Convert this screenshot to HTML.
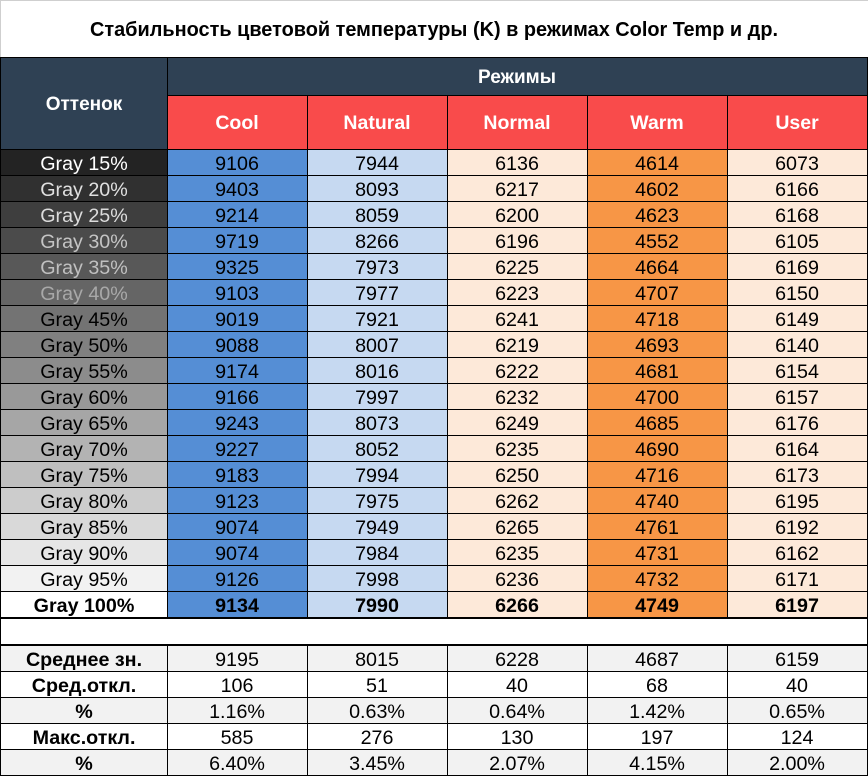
<!DOCTYPE html>
<html><head><meta charset="utf-8">
<style>
html,body{margin:0;padding:0;background:#fff;}
svg{display:block;}
text{font-family:"Liberation Sans",Arial,sans-serif;}
</style></head>
<body>
<svg width="868" height="776" viewBox="0 0 868 776" xmlns="http://www.w3.org/2000/svg" shape-rendering="crispEdges">
<rect x="0" y="0" width="868" height="776" fill="#fff"/>
<rect x="0" y="0" width="868" height="1" fill="#cfcfcf"/>
<rect x="0" y="0" width="1" height="57" fill="#cfcfcf"/>
<text x="434" y="36" text-anchor="middle" font-size="20" font-weight="bold" textLength="688" lengthAdjust="spacingAndGlyphs" fill="#000">Стабильность цветовой температуры (K) в режимах Color Temp и др.</text>

<!-- header -->
<rect x="0" y="57" width="868" height="92" fill="#2f4154"/>
<rect x="167" y="95" width="700" height="54" fill="#f94b4b"/>
<text x="84" y="110" text-anchor="middle" font-size="19" font-weight="bold" fill="#fff">Оттенок</text>
<text x="517" y="83" text-anchor="middle" font-size="19" font-weight="bold" fill="#fff">Режимы</text>
<g font-size="19.5" font-weight="bold" fill="#fff" text-anchor="middle">
<text x="237" y="129">Cool</text>
<text x="377" y="129">Natural</text>
<text x="517" y="129">Normal</text>
<text x="657" y="129">Warm</text>
<text x="797" y="129">User</text>
</g>

<!-- data column fills -->
<rect x="167" y="149" width="140" height="468" fill="#558ed5"/>
<rect x="307" y="149" width="140" height="468" fill="#c6d9f1"/>
<rect x="447" y="149" width="140" height="468" fill="#fde9d9"/>
<rect x="587" y="149" width="140" height="468" fill="#f79646"/>
<rect x="727" y="149" width="140" height="468" fill="#fde9d9"/>

<!-- gray label fills -->
<rect x="0" y="149" width="167" height="26" fill="#232323"/>
<rect x="0" y="175" width="167" height="26" fill="#303030"/>
<rect x="0" y="201" width="167" height="26" fill="#3e3e3e"/>
<rect x="0" y="227" width="167" height="26" fill="#4b4b4b"/>
<rect x="0" y="253" width="167" height="26" fill="#585858"/>
<rect x="0" y="279" width="167" height="26" fill="#656565"/>
<rect x="0" y="305" width="167" height="26" fill="#737373"/>
<rect x="0" y="331" width="167" height="26" fill="#808080"/>
<rect x="0" y="357" width="167" height="26" fill="#8c8c8c"/>
<rect x="0" y="383" width="167" height="26" fill="#999999"/>
<rect x="0" y="409" width="167" height="26" fill="#a6a6a6"/>
<rect x="0" y="435" width="167" height="26" fill="#b3b3b3"/>
<rect x="0" y="461" width="167" height="26" fill="#bfbfbf"/>
<rect x="0" y="487" width="167" height="26" fill="#cccccc"/>
<rect x="0" y="513" width="167" height="26" fill="#d9d9d9"/>
<rect x="0" y="539" width="167" height="26" fill="#e6e6e6"/>
<rect x="0" y="565" width="167" height="26" fill="#f2f2f2"/>
<rect x="0" y="591" width="167" height="26" fill="#ffffff"/>

<!-- stats fills -->
<rect x="0" y="646" width="868" height="25" fill="#f2f2f2"/>
<rect x="0" y="697" width="868" height="26" fill="#f2f2f2"/>
<rect x="0" y="749" width="868" height="26" fill="#f2f2f2"/>

<!-- gray labels -->
<g font-size="19.7" text-anchor="middle">
<text x="84" y="170" fill="#ffffff">Gray 15%</text>
<text x="84" y="196" fill="#e0e0e0">Gray 20%</text>
<text x="84" y="222" fill="#dcdcdc">Gray 25%</text>
<text x="84" y="248" fill="#c4c4c4">Gray 30%</text>
<text x="84" y="274" fill="#c0c0c0">Gray 35%</text>
<text x="84" y="300" fill="#a8a8a8">Gray 40%</text>
<text x="84" y="326" fill="#000">Gray 45%</text>
<text x="84" y="352" fill="#000">Gray 50%</text>
<text x="84" y="378" fill="#000">Gray 55%</text>
<text x="84" y="404" fill="#000">Gray 60%</text>
<text x="84" y="430" fill="#000">Gray 65%</text>
<text x="84" y="456" fill="#000">Gray 70%</text>
<text x="84" y="482" fill="#000">Gray 75%</text>
<text x="84" y="508" fill="#000">Gray 80%</text>
<text x="84" y="534" fill="#000">Gray 85%</text>
<text x="84" y="560" fill="#000">Gray 90%</text>
<text x="84" y="586" fill="#000">Gray 95%</text>
<text x="84" y="612" fill="#000" font-weight="bold">Gray 100%</text>
</g>

<!-- data values -->
<g font-size="19.7" text-anchor="middle" fill="#000">
<text x="237" y="170">9106</text><text x="377" y="170">7944</text><text x="517" y="170">6136</text><text x="657" y="170">4614</text><text x="797" y="170">6073</text>
<text x="237" y="196">9403</text><text x="377" y="196">8093</text><text x="517" y="196">6217</text><text x="657" y="196">4602</text><text x="797" y="196">6166</text>
<text x="237" y="222">9214</text><text x="377" y="222">8059</text><text x="517" y="222">6200</text><text x="657" y="222">4623</text><text x="797" y="222">6168</text>
<text x="237" y="248">9719</text><text x="377" y="248">8266</text><text x="517" y="248">6196</text><text x="657" y="248">4552</text><text x="797" y="248">6105</text>
<text x="237" y="274">9325</text><text x="377" y="274">7973</text><text x="517" y="274">6225</text><text x="657" y="274">4664</text><text x="797" y="274">6169</text>
<text x="237" y="300">9103</text><text x="377" y="300">7977</text><text x="517" y="300">6223</text><text x="657" y="300">4707</text><text x="797" y="300">6150</text>
<text x="237" y="326">9019</text><text x="377" y="326">7921</text><text x="517" y="326">6241</text><text x="657" y="326">4718</text><text x="797" y="326">6149</text>
<text x="237" y="352">9088</text><text x="377" y="352">8007</text><text x="517" y="352">6219</text><text x="657" y="352">4693</text><text x="797" y="352">6140</text>
<text x="237" y="378">9174</text><text x="377" y="378">8016</text><text x="517" y="378">6222</text><text x="657" y="378">4681</text><text x="797" y="378">6154</text>
<text x="237" y="404">9166</text><text x="377" y="404">7997</text><text x="517" y="404">6232</text><text x="657" y="404">4700</text><text x="797" y="404">6157</text>
<text x="237" y="430">9243</text><text x="377" y="430">8073</text><text x="517" y="430">6249</text><text x="657" y="430">4685</text><text x="797" y="430">6176</text>
<text x="237" y="456">9227</text><text x="377" y="456">8052</text><text x="517" y="456">6235</text><text x="657" y="456">4690</text><text x="797" y="456">6164</text>
<text x="237" y="482">9183</text><text x="377" y="482">7994</text><text x="517" y="482">6250</text><text x="657" y="482">4716</text><text x="797" y="482">6173</text>
<text x="237" y="508">9123</text><text x="377" y="508">7975</text><text x="517" y="508">6262</text><text x="657" y="508">4740</text><text x="797" y="508">6195</text>
<text x="237" y="534">9074</text><text x="377" y="534">7949</text><text x="517" y="534">6265</text><text x="657" y="534">4761</text><text x="797" y="534">6192</text>
<text x="237" y="560">9074</text><text x="377" y="560">7984</text><text x="517" y="560">6235</text><text x="657" y="560">4731</text><text x="797" y="560">6162</text>
<text x="237" y="586">9126</text><text x="377" y="586">7998</text><text x="517" y="586">6236</text><text x="657" y="586">4732</text><text x="797" y="586">6171</text>
<g font-weight="bold">
<text x="237" y="612">9134</text><text x="377" y="612">7990</text><text x="517" y="612">6266</text><text x="657" y="612">4749</text><text x="797" y="612">6197</text>
</g>
</g>

<!-- stats -->
<g font-size="19.7" text-anchor="middle" fill="#000">
<g font-weight="bold">
<text x="84" y="666">Среднее зн.</text>
<text x="84" y="692">Сред.откл.</text>
<text x="84" y="718">%</text>
<text x="84" y="744">Макс.откл.</text>
<text x="84" y="770">%</text>
</g>
<text x="237" y="666">9195</text><text x="377" y="666">8015</text><text x="517" y="666">6228</text><text x="657" y="666">4687</text><text x="797" y="666">6159</text>
<text x="237" y="692">106</text><text x="377" y="692">51</text><text x="517" y="692">40</text><text x="657" y="692">68</text><text x="797" y="692">40</text>
<text x="237" y="718">1.16%</text><text x="377" y="718">0.63%</text><text x="517" y="718">0.64%</text><text x="657" y="718">1.42%</text><text x="797" y="718">0.65%</text>
<text x="237" y="744">585</text><text x="377" y="744">276</text><text x="517" y="744">130</text><text x="657" y="744">197</text><text x="797" y="744">124</text>
<text x="237" y="770">6.40%</text><text x="377" y="770">3.45%</text><text x="517" y="770">2.07%</text><text x="657" y="770">4.15%</text><text x="797" y="770">2.00%</text>
</g>

<!-- borders -->
<g fill="#000">
<rect x="0" y="57" width="868" height="1"/>
<rect x="167" y="95" width="700" height="1"/>
<rect x="0" y="149" width="868" height="1"/>
<rect x="0" y="175" width="868" height="1"/>
<rect x="0" y="201" width="868" height="1"/>
<rect x="0" y="227" width="868" height="1"/>
<rect x="0" y="253" width="868" height="1"/>
<rect x="0" y="279" width="868" height="1"/>
<rect x="0" y="305" width="868" height="1"/>
<rect x="0" y="331" width="868" height="1"/>
<rect x="0" y="357" width="868" height="1"/>
<rect x="0" y="383" width="868" height="1"/>
<rect x="0" y="409" width="868" height="1"/>
<rect x="0" y="435" width="868" height="1"/>
<rect x="0" y="461" width="868" height="1"/>
<rect x="0" y="487" width="868" height="1"/>
<rect x="0" y="513" width="868" height="1"/>
<rect x="0" y="539" width="868" height="1"/>
<rect x="0" y="565" width="868" height="1"/>
<rect x="0" y="591" width="868" height="1"/>
<rect x="0" y="617" width="868" height="2"/>
<rect x="0" y="644" width="868" height="2"/>
<rect x="0" y="671" width="868" height="1"/>
<rect x="0" y="697" width="868" height="1"/>
<rect x="0" y="723" width="868" height="1"/>
<rect x="0" y="749" width="868" height="1"/>
<rect x="0" y="775" width="868" height="1"/>
<!-- verticals -->
<rect x="0" y="57" width="1" height="719"/>
<rect x="867" y="57" width="1" height="719"/>
<rect x="167" y="57" width="1" height="560"/>
<rect x="307" y="95" width="1" height="522"/>
<rect x="447" y="95" width="1" height="522"/>
<rect x="587" y="95" width="1" height="522"/>
<rect x="727" y="95" width="1" height="522"/>
<rect x="167" y="646" width="1" height="130"/>
<rect x="307" y="646" width="1" height="130"/>
<rect x="447" y="646" width="1" height="130"/>
<rect x="587" y="646" width="1" height="130"/>
<rect x="727" y="646" width="1" height="130"/>
</g>
</svg>
</body></html>
